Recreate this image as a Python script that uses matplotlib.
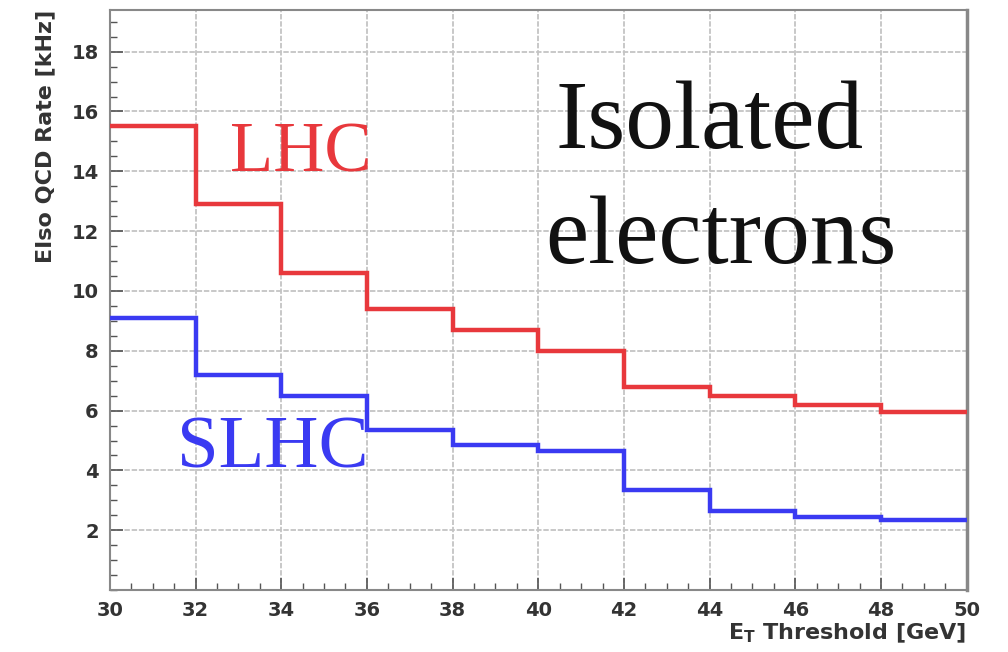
import numpy as np
import matplotlib.pyplot as plt
from matplotlib.ticker import MultipleLocator

# bin edges in Et threshold [GeV]
edges = [30, 32, 34, 36, 38, 40, 42, 44, 46, 48, 50]
lhc_rate = [15.5, 12.9, 10.6, 9.4, 8.7, 8.0, 6.8, 6.5, 6.2, 5.95]
slhc_rate = [9.1, 7.2, 6.5, 5.35, 4.85, 4.65, 3.35, 2.65, 2.45, 2.35]

fig = plt.figure(figsize=(10.08, 6.52), dpi=100)
ax = fig.add_axes([0.109, 0.095, 0.850, 0.890])
ax.set_axisbelow(True)

ax.stairs(lhc_rate, edges, color="#e8383c", lw=3.2, baseline=None, zorder=3)
ax.stairs(slhc_rate, edges, color="#3a3af2", lw=3.2, baseline=None, zorder=3)

ax.set_xlim(30, 50)
ax.set_ylim(0, 19.4)
ax.xaxis.set_major_locator(MultipleLocator(2))
ax.xaxis.set_minor_locator(MultipleLocator(0.5))
ax.yaxis.set_major_locator(MultipleLocator(2))
ax.yaxis.set_minor_locator(MultipleLocator(0.5))
ax.set_yticks(np.arange(2, 19, 2))

ax.grid(True, which="major", color="#c4c4c4", lw=1.3, ls=(0, (3, 1)))
ax.tick_params(which="both", direction="in", top=False, right=False,
               colors="#555555", labelcolor="#333333")
ax.tick_params(which="major", length=9, width=1.2, labelsize=14, pad=8)
ax.tick_params(which="minor", length=5, width=1.0)
for lab in ax.get_xticklabels() + ax.get_yticklabels():
    lab.set_fontweight("bold")
for s in ax.spines.values():
    s.set_color("#888888")
    s.set_linewidth(1.5)
ax.spines["right"].set_linewidth(2.5)

ax.set_ylabel("EIso QCD Rate [kHz]", fontsize=16, fontweight="bold",
              color="#333333", loc="top", labelpad=12)
ax.set_xlabel("E$_{\\mathregular{T}}$ Threshold [GeV]", fontsize=16,
              fontweight="bold", color="#333333", loc="right", labelpad=1)

ax.text(0.140, 0.721, "LHC", transform=ax.transAxes, fontsize=51,
        family="Liberation Serif", color="#e8383c", ha="left", va="baseline")
ax.text(0.078, 0.212, "SLHC", transform=ax.transAxes, fontsize=54,
        family="Liberation Serif", color="#3a3af2", ha="left", va="baseline")
ax.text(0.700, 0.762, "Isolated", transform=ax.transAxes,
        fontsize=70, family="Liberation Serif", color="#111111",
        ha="center", va="baseline")
ax.text(0.713, 0.564, "electrons", transform=ax.transAxes,
        fontsize=70, family="Liberation Serif", color="#111111",
        ha="center", va="baseline")

fig.savefig("out.png", dpi=100)
